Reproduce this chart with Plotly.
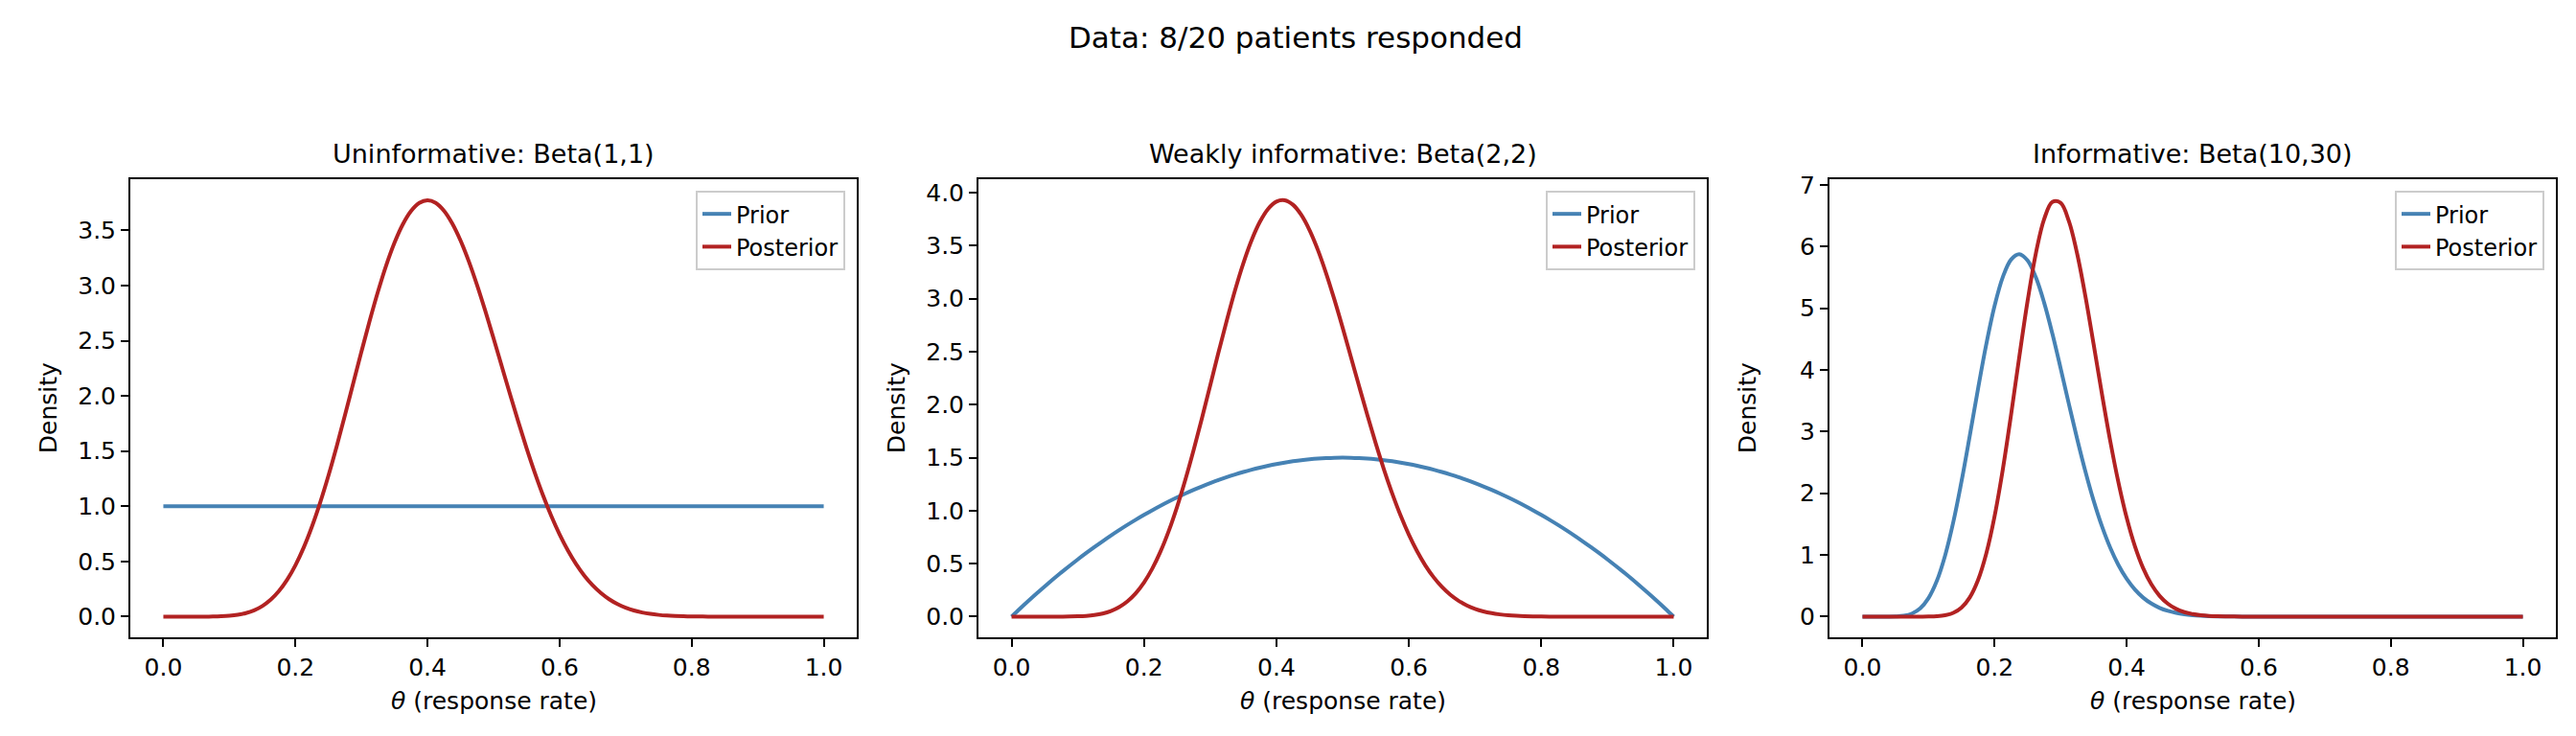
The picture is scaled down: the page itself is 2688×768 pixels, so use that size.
# Prior vs posterior for a beta-binomial model, three priors side by side.
# Curves are density values read at theta = 0, 0.0125, ..., 1.0

import plotly.graph_objects as go

# grid of theta values (81 points)
THETA = [0.0, 0.0125, 0.025, 0.0375, 0.05, 0.0625, 0.075, 0.0875, 0.1, 0.1125,
         0.125, 0.1375, 0.15, 0.1625, 0.175, 0.1875, 0.2, 0.2125, 0.225, 0.2375,
         0.25, 0.2625, 0.275, 0.2875, 0.3, 0.3125, 0.325, 0.3375, 0.35, 0.3625,
         0.375, 0.3875, 0.4, 0.4125, 0.425, 0.4375, 0.45, 0.4625, 0.475, 0.4875,
         0.5, 0.5125, 0.525, 0.5375, 0.55, 0.5625, 0.575, 0.5875, 0.6, 0.6125,
         0.625, 0.6375, 0.65, 0.6625, 0.675, 0.6875, 0.7, 0.7125, 0.725, 0.7375,
         0.75, 0.7625, 0.775, 0.7875, 0.8, 0.8125, 0.825, 0.8375, 0.85, 0.8625,
         0.875, 0.8875, 0.9, 0.9125, 0.925, 0.9375, 0.95, 0.9625, 0.975, 0.9875,
         1.0]

# flat prior only needs its ends
FLAT_THETA = [0.0, 1.0]
prior_unif = [1.0, 1.0]

post_unif = [0.0, 0.0, 0.0, 0.0, 0.0001, 0.0003, 0.0010, 0.0030, 0.0075, 0.0162,
             0.0318, 0.0573, 0.0964, 0.1532, 0.2313, 0.3345, 0.4654, 0.6257, 0.8158, 1.0344,
             1.2786, 1.5440, 1.8247, 2.1136, 2.4024, 2.6826, 2.9457, 3.1841, 3.3884, 3.5540,
             3.6753, 3.7493, 3.7738, 3.7497, 3.6780, 3.5628, 3.4084, 3.2206, 3.0057, 2.7708,
             2.5229, 2.2685, 2.0141, 1.7654, 1.5273, 1.3038, 1.0977, 0.9113, 0.7454, 0.6006,
             0.4763, 0.3716, 0.2849, 0.2145, 0.1583, 0.1145, 0.0810, 0.0560, 0.0378, 0.0248,
             0.0158, 0.0097, 0.0058, 0.0033, 0.0018, 0.0010, 0.0005, 0.0002, 0.0001, 0.0,
             0.0, 0.0, 0.0, 0.0, 0.0, 0.0, 0.0, 0.0, 0.0, 0.0,
             0.0]

prior_weak = [0.0, 0.0741, 0.1463, 0.2166, 0.285, 0.3516, 0.4163, 0.4791, 0.54, 0.5991,
              0.6563, 0.7116, 0.765, 0.8166, 0.8663, 0.9141, 0.96, 1.0041, 1.0463, 1.0866,
              1.125, 1.1616, 1.1963, 1.2291, 1.26, 1.2891, 1.3163, 1.3416, 1.365, 1.3866,
              1.4063, 1.4241, 1.44, 1.4541, 1.4663, 1.4766, 1.485, 1.4916, 1.4963, 1.4991,
              1.5, 1.4991, 1.4963, 1.4916, 1.485, 1.4766, 1.4663, 1.4541, 1.44, 1.4241,
              1.4063, 1.3866, 1.365, 1.3416, 1.3163, 1.2891, 1.26, 1.2291, 1.1963, 1.1616,
              1.125, 1.0866, 1.0463, 1.0041, 0.96, 0.9141, 0.8663, 0.8166, 0.765, 0.7116,
              0.6563, 0.5991, 0.54, 0.4791, 0.4163, 0.3516, 0.285, 0.2166, 0.1463, 0.0741,
              0.0]

post_weak = [0.0, 0.0, 0.0, 0.0, 0.0, 0.0001, 0.0003, 0.0010, 0.0029, 0.0070,
             0.0150, 0.0294, 0.0532, 0.0902, 0.1445, 0.2204, 0.3220, 0.4529, 0.6152, 0.8101,
             1.0369, 1.2928, 1.5734, 1.8725, 2.1819, 2.4926, 2.7948, 3.0791, 3.3338, 3.5520,
             3.7254, 3.8484, 3.9170, 3.9299, 3.8872, 3.7919, 3.6482, 3.4625, 3.2417, 2.9939,
             2.7277, 2.4511, 2.1723, 1.8982, 1.6348, 1.3876, 1.1602, 0.9551, 0.7738, 0.6165,
             0.4828, 0.3713, 0.2803, 0.2074, 0.1502, 0.1064, 0.0736, 0.0496, 0.0326, 0.0208,
             0.0128, 0.0076, 0.0044, 0.0024, 0.0013, 0.0006, 0.0003, 0.0001, 0.0, 0.0,
             0.0, 0.0, 0.0, 0.0, 0.0, 0.0, 0.0, 0.0, 0.0, 0.0,
             0.0]

prior_inf = [0.0, 0.0, 0.0, 0.0003, 0.0028, 0.0142, 0.0498, 0.1343, 0.2995, 0.5762,
             0.9856, 1.5312, 2.1942, 2.9345, 3.6966, 4.4177, 5.0368, 5.5051, 5.7901, 5.8778,
             5.7747, 5.5022, 5.0942, 4.5899, 4.0293, 3.4503, 2.8843, 2.3563, 1.8810, 1.4688,
             1.1222, 0.8391, 0.6141, 0.4399, 0.3084, 0.2117, 0.1421, 0.0934, 0.0600, 0.0377,
             0.0231, 0.0139, 0.0081, 0.0046, 0.0026, 0.0014, 0.0007, 0.0004, 0.0002, 0.0001,
             0.0, 0.0, 0.0, 0.0, 0.0, 0.0, 0.0, 0.0, 0.0, 0.0,
             0.0, 0.0, 0.0, 0.0, 0.0, 0.0, 0.0, 0.0, 0.0, 0.0,
             0.0, 0.0, 0.0, 0.0, 0.0, 0.0, 0.0, 0.0, 0.0, 0.0,
             0.0]

post_inf = [0.0, 0.0, 0.0, 0.0, 0.0, 0.0, 0.0, 0.0003, 0.0016, 0.0065,
            0.0217, 0.0608, 0.1467, 0.3115, 0.5926, 1.0240, 1.6245, 2.3872, 3.2735, 4.2134,
            5.1169, 5.8876, 6.4419, 6.7232, 6.7084, 6.4145, 5.8881, 5.1995, 4.4170, 3.6177,
            2.8583, 2.1803, 1.6061, 1.1431, 0.7861, 0.5226, 0.3357, 0.2084, 0.1250, 0.0724,
            0.0404, 0.0218, 0.0113, 0.0057, 0.0027, 0.0013, 0.0006, 0.0002, 0.0, 0.0,
            0.0, 0.0, 0.0, 0.0, 0.0, 0.0, 0.0, 0.0, 0.0, 0.0,
            0.0, 0.0, 0.0, 0.0, 0.0, 0.0, 0.0, 0.0, 0.0, 0.0,
            0.0, 0.0, 0.0, 0.0, 0.0, 0.0, 0.0, 0.0, 0.0, 0.0,
            0.0]

panel_titles = ["Uninformative: Beta(1,1)", "Weakly informative: Beta(2,2)",
                "Informative: Beta(10,30)"]
x_ticks = [0.0, 0.2, 0.4, 0.6, 0.8, 1.0]
y_ticks = [[0, 0.5, 1.0, 1.5, 2.0, 2.5, 3.0, 3.5],
           [0, 0.5, 1.0, 1.5, 2.0, 2.5, 3.0, 3.5, 4.0],
           [0, 1, 2, 3, 4, 5, 6, 7]]
y_ranges = [[-0.1887, 3.9627], [-0.1965, 4.1265], [-0.3376, 7.0896]]
y_formats = [".1f", ".1f", "d"]

BLUE = "#4682b4"
RED = "#b22222"
W, H = 2688, 768

# panel positions in pixels (left, right), shared top/bottom
panel_px = [(128, 886), (1013, 1773), (1901, 2659)]
top_px, bottom_px = 173, 656

curves = [
    (FLAT_THETA, prior_unif, THETA, post_unif),
    (THETA, prior_weak, THETA, post_weak),
    (THETA, prior_inf, THETA, post_inf),
]

fig = go.Figure()

for i, (xp, yp, xq, yq) in enumerate(curves):
    n = "" if i == 0 else str(i + 1)
    leg = "legend" + n
    fig.add_trace(go.Scatter(x=xp, y=yp, mode="lines", name="Prior",
                             line=dict(color=BLUE, width=4, shape="spline"),
                             xaxis="x" + n, yaxis="y" + n, legend=leg))
    fig.add_trace(go.Scatter(x=xq, y=yq, mode="lines", name="Posterior",
                             line=dict(color=RED, width=4, shape="spline"),
                             xaxis="x" + n, yaxis="y" + n, legend=leg))

layout = dict(
    width=W, height=H,
    margin=dict(l=0, r=0, t=0, b=0),
    paper_bgcolor="white", plot_bgcolor="white",
    font=dict(family="DejaVu Sans", size=25, color="black"),
    title=dict(text="Data: 8/20 patients responded", x=0.5, xanchor="center",
               y=1 - 42 / H, yanchor="bottom", font=dict(size=31, color="black")),
    annotations=[],
)

axis_common = dict(showline=True, linecolor="black", linewidth=2, mirror=True,
                   ticks="outside", ticklen=8, tickwidth=2, tickcolor="black",
                   showgrid=False, zeroline=False,
                   tickfont=dict(size=25, color="black"))

for i in range(3):
    n = "" if i == 0 else str(i + 1)
    left, right = panel_px[i]
    layout["xaxis" + n] = dict(
        axis_common, domain=[left / W, right / W], range=[-0.05, 1.05],
        anchor="y" + n, tickvals=x_ticks, tickformat=".1f",
    )
    layout["yaxis" + n] = dict(
        axis_common, domain=[1 - bottom_px / H, 1 - top_px / H], anchor="x" + n,
        range=y_ranges[i], tickvals=y_ticks[i], tickformat=y_formats[i],
    )
    layout["legend" + n] = dict(
        x=(right - 12) / W, y=1 - (top_px + 12) / H, xanchor="right", yanchor="top",
        bgcolor="rgba(255,255,255,0.8)", bordercolor="#cccccc", borderwidth=2,
        font=dict(size=24, color="black"),
    )
    # panel title
    layout["annotations"].append(dict(
        text=panel_titles[i], xref="paper", yref="paper",
        x=(left + right) / 2 / W, y=1 - 164 / H, xanchor="center", yanchor="bottom",
        showarrow=False, font=dict(size=27, color="black"),
    ))
    # x label
    layout["annotations"].append(dict(
        text="<i>θ</i> (response rate)", xref="paper", yref="paper",
        x=(left + right) / 2 / W, y=1 - 706 / H, xanchor="center", yanchor="top",
        showarrow=False, font=dict(size=25, color="black"),
    ))
    # y label
    layout["annotations"].append(dict(
        text="Density", xref="paper", yref="paper", textangle=-90,
        x=(left - 86) / W, y=1 - (top_px + bottom_px) / 2 / H,
        xanchor="center", yanchor="middle",
        showarrow=False, font=dict(size=25, color="black"),
    ))

fig.update_layout(layout)

fig.write_html("out.html")
